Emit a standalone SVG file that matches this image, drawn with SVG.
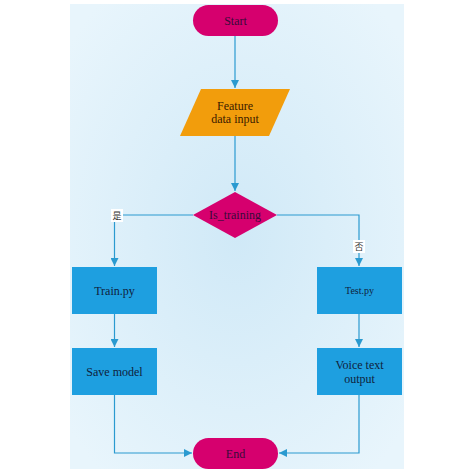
<svg xmlns="http://www.w3.org/2000/svg" width="474" height="474" viewBox="0 0 474 474">
<defs>
<radialGradient id="bg" cx="50%" cy="50%" r="65%">
<stop offset="0" stop-color="#d0e9f7"/>
<stop offset="1" stop-color="#e8f5fc"/>
</radialGradient>
<marker id="ah" viewBox="0 0 10 10" refX="10" refY="5" markerWidth="8" markerHeight="8" markerUnits="userSpaceOnUse" orient="auto">
<path d="M0,0 L10,5 L0,10 z" fill="#2a9ad0"/>
</marker>
<style>
.term{fill:#d6006e}
.io{fill:#f29d0c}
.proc{fill:#1e9fe0}
.t{font-family:"Liberation Serif","Times New Roman",serif;font-size:12px;text-anchor:middle;dominant-baseline:central}
.tm{fill:#3a0a3a}
.tb{fill:#10223c}
.to{fill:#3a1a00}
.c{fill:none;stroke:#2a9ad0;stroke-width:1.2;marker-end:url(#ah)}
.lbl{font-family:"Noto Sans CJK SC",sans-serif;font-size:9px;text-anchor:middle;dominant-baseline:central;fill:#333}
</style>
</defs>
<rect width="474" height="474" fill="#ffffff"/>
<rect x="70" y="4" width="334" height="465" fill="url(#bg)"/>
<g id="connectors">
<path class="c" d="M235,36 V88"/>
<path class="c" d="M235,136 V191"/>
<path class="c" d="M193,215 H114.5 V266"/>
<path class="c" d="M277,215 H359 V266"/>
<path class="c" d="M114.5,314 V347"/>
<path class="c" d="M359,314 V347"/>
<path class="c" d="M114.5,395 V453 H192"/>
<path class="c" d="M359,395 V453 H279"/>
<rect x="111" y="209" width="12" height="13" fill="#ffffff"/>
<text class="lbl" x="117" y="215.5">是</text>
<rect x="353" y="240" width="12" height="13" fill="#ffffff"/>
<text class="lbl" x="359" y="246.5">否</text>
</g>
<g id="start">
<rect class="term" x="193" y="5" width="85" height="31" rx="15.5"/>
<text class="t tm" x="235.5" y="20.5">Start</text>
</g>
<g id="feature">
<polygon class="io" points="201,89 290,89 269,136 180,136"/>
<text class="t to" x="235" y="106">Feature</text>
<text class="t to" x="235" y="119">data input</text>
</g>
<g id="decision">
<polygon class="term" points="235,192 277,215 235,238 193,215"/>
<text class="t tm" x="235" y="215">Is_training</text>
</g>
<g id="train">
<rect class="proc" x="72" y="267" width="85" height="47"/>
<text class="t tb" x="114.5" y="290.5">Train.py</text>
</g>
<g id="test">
<rect class="proc" x="317" y="267" width="85" height="47"/>
<text class="t tb" x="359.5" y="290.5" style="font-size:10px">Test.py</text>
</g>
<g id="save">
<rect class="proc" x="72" y="348" width="85" height="47"/>
<text class="t tb" x="114.5" y="371.5">Save model</text>
</g>
<g id="voice">
<rect class="proc" x="317" y="348" width="85" height="47"/>
<text class="t tb" x="359.5" y="365">Voice text</text>
<text class="t tb" x="359.5" y="378.5">output</text>
</g>
<g id="end">
<rect class="term" x="193" y="438" width="85" height="31" rx="15.5"/>
<text class="t tm" x="235.5" y="453.5">End</text>
</g>
</svg>
